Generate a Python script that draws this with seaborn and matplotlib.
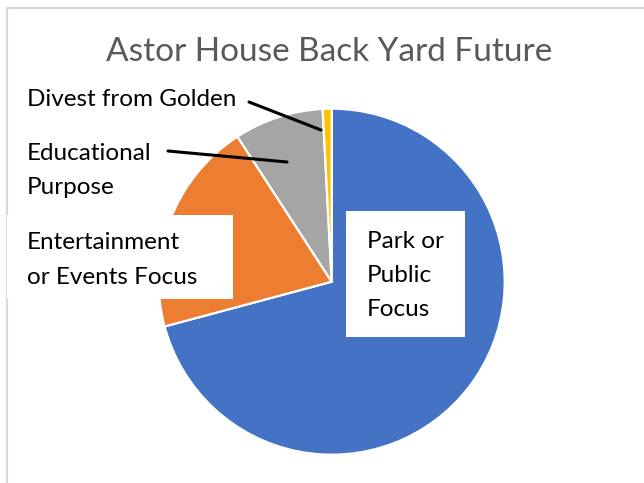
import matplotlib
matplotlib.use("Agg")
import matplotlib.pyplot as plt
from matplotlib.patches import Rectangle
from matplotlib.lines import Line2D
import seaborn as sns

sns.set_theme(style="white")
plt.rcParams['font.family'] = ['Lato', 'DejaVu Sans']

# data (responses)
categories = ["Park or Public Focus", "Entertainment or Events Focus",
              "Educational Purpose", "Divest from Golden"]
counts = [85, 24, 10, 1]
colors = sns.color_palette(["#4472C4", "#ED7D31", "#A5A5A5", "#FFC000"])
title = "Astor House Back Yard Future"

W, H = 644, 483


def fx(px):
    return px / W


def fy(py):
    return 1 - py / H


fig = plt.figure(figsize=(W / 100, H / 100), dpi=100)

# chart-area frame (runs off the right/bottom edge, as in the reference)
fig.patches.append(Rectangle((fx(7), fy(H + 10)), fx(W + 10), fy(8) - fy(H + 10),
                             transform=fig.transFigure, fill=False,
                             edgecolor="#D9D9D9", linewidth=1.6, zorder=0))

cx, cy, r = 331.7, 281.7, 173
ax = fig.add_axes([fx(cx - r), fy(cy + r), (2 * r) / W, (2 * r) / H])
ax.pie(counts, colors=colors, startangle=90, counterclock=False,
       wedgeprops=dict(edgecolor="white", linewidth=1.6))
ax.set_xlim(-1, 1)
ax.set_ylim(-1, 1)
ax.set_aspect("equal")
ax.axis("off")

fig.text(fx(329), fy(52), title, ha="center", va="center",
         fontsize=24, color="#595959")

# white label boxes over the pie
for x0, y0, x1, y1 in [(7, 215, 233, 299), (346, 211, 465, 337)]:
    fig.patches.append(Rectangle((fx(x0), fy(y1)), fx(x1) - fx(x0), fy(y0) - fy(y1),
                                 transform=fig.transFigure, facecolor="white",
                                 edgecolor="none", zorder=5))

# leader lines
for (x0, y0), (x1, y1) in [((249, 102), (321, 130)), ((168, 151), (287, 162))]:
    fig.lines.append(Line2D([fx(x0), fx(x1)], [fy(y0), fy(y1)],
                            transform=fig.transFigure, color="black",
                            linewidth=2.2, zorder=6))

label_lines = [
    (367, 242, "Park or"), (367, 276, "Public"), (367, 310, "Focus"),
    (27, 243, "Entertainment"), (27, 278, "or Events Focus"),
    (27, 153, "Educational"), (27, 187, "Purpose"),
    (27, 100, "Divest from Golden"),
]
for px, py, s in label_lines:
    fig.text(fx(px), fy(py), s, ha="left", va="center", fontsize=17.5,
             color="black", zorder=7)

fig.savefig("out.png", dpi=100, facecolor="white")
